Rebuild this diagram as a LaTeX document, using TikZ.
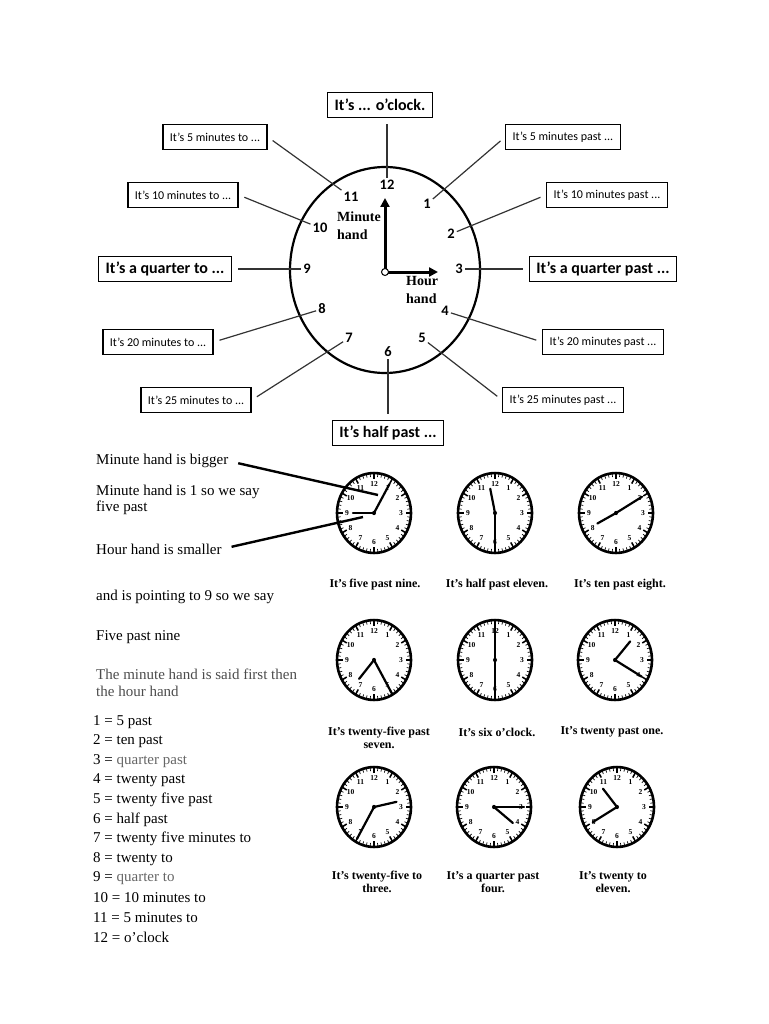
\documentclass[tikz,border=0pt]{standalone}
\usepackage{fontspec}
\setmainfont{Liberation Serif}
\newfontfamily\labelfont[Ligatures=TeX]{Carlito}
\usetikzlibrary{positioning,arrows.meta,shapes.geometric}

\tikzset{
  rim/.style={line width=2.6pt},
  tick/.style={line width=0.7pt},
  bigtick/.style={line width=1.5pt},
  dialnum/.style={font=\bfseries\fontsize{7.5}{7.5}\selectfont, inner sep=0pt},
  clockhand/.style={line width=2.2pt, line cap=round}
}

% #1 name, #2 centre, #3 hour, #4 hour hand length, #5 minute, #6 minute hand length
\newcommand{\smallclock}[6]{%
  \begin{scope}[shift={#2}, yscale=1.08]
    \coordinate (#1) at (0,0);
    \draw[rim] (0,0) circle (37);
    \foreach \k in {0,...,59} \draw[tick] ({\k*6}:37) -- ({\k*6}:33.5);
    \foreach \k in {1,...,12} {
      \draw[bigtick] ({\k*30-90}:37) -- ({\k*30-90}:31.5);
      \node[dialnum] at ({\k*30-90}:27) {\k};
    }
    \draw[clockhand] (#1) -- ({30*#3-90}:#4);
    \draw[clockhand] (#1) -- ({6*#5-90}:#6);
    \fill (#1) circle (2);
  \end{scope}}

\begin{document}
\begin{tikzpicture}[x=1pt, y=-1pt,
  box/.style={draw, line width=1.3pt, minimum height=25pt, inner xsep=7pt, font=\labelfont\fontsize{12}{14}\selectfont},
  bigbox/.style={box, font=\labelfont\bfseries\fontsize{16}{18}\selectfont},
  num/.style={font=\labelfont\bfseries\fontsize{14.5}{16}\selectfont, inner sep=2pt},
  spoke/.style={line width=1.2pt, draw=black!80, shorten <=6pt},
  hand/.style={line width=3pt, -{Triangle[length=9pt,width=9pt]}},
  handtag/.style={font=\bfseries\fontsize{14}{18}\selectfont, align=left, inner sep=0pt},
  note/.style={anchor=west, align=left, inner sep=0pt, font=\fontsize{15}{16.5}\selectfont},
  caption/.style={align=center, inner sep=0pt, font=\bfseries\fontsize{12}{13}\selectfont},
  pointer/.style={line width=2.4pt, shorten <=10pt}
]
\useasboundingbox (0,0) rectangle (768,1024);

% big clock
\node[draw, ellipse, line width=2.2pt, minimum width=190pt, minimum height=206pt] (face) at (385,270) {};
\node[num] (n12) at (387,185) {12};
\node[num] (n1) at (427,204) {1};
\node[num] (n2) at (451,234) {2};
\node[num] (n3) at (459,269) {3};
\node[num] (n4) at (445,311) {4};
\node[num] (n5) at (422,338) {5};
\node[num] (n6) at (388,352) {6};
\node[num] (n7) at (349,338) {7};
\node[num] (n8) at (322,309) {8};
\node[num] (n9) at (307,269) {9};
\node[num] (n10) at (320,228) {10};
\node[num] (n11) at (351,197) {11};

\coordinate (hub) at (385,272);
\coordinate (mtip) at (385,198);
\coordinate (htip) at (438,272);
\draw[hand] (hub) -- (mtip);
\draw[hand] (hub) -- (htip);
\node[draw, circle, fill=white, line width=1pt, minimum size=7pt, inner sep=0pt] (pivot) at (hub) {};
\node[handtag, anchor=north west] (mtag) at (337,212) {Minute\\hand};
\node[handtag, anchor=north west] (htag) at (406,276) {Hour\\hand};

% labels round the clock
\node[bigbox] (oclock) at (380,105) {It's ... o'clock.};
\node[box] (to5) at (215,137) {It's 5 minutes to ...};
\node[box] (past5) at (563,137) {It's 5 minutes past ...};
\node[box] (to10) at (183,195) {It's 10 minutes to ...};
\node[box] (past10) at (607,195) {It's 10 minutes past ...};
\node[bigbox] (qto) at (165,269) {It's a quarter to ...};
\node[bigbox] (qpast) at (603,269) {It's a quarter past ...};
\node[box] (to20) at (158,342) {It's 20 minutes to ...};
\node[box] (past20) at (603,342) {It's 20 minutes past ...};
\node[box] (to25) at (196,400) {It's 25 minutes to ...};
\node[box] (past25) at (563,400) {It's 25 minutes past ...};
\node[bigbox] (half) at (388,433) {It's half past ...};

\draw[spoke] (oclock.south -| n12) -- (n12);
\draw[spoke] (to5.east) -- (n11);
\draw[spoke] (past5.west) -- (n1);
\draw[spoke] (to10.east) -- (n10);
\draw[spoke] (past10.west) -- (n2);
\draw[spoke] (qto) -- (n9);
\draw[spoke] (qpast) -- (n3);
\draw[spoke] (to20.east) -- (n8);
\draw[spoke] (past20.west) -- (n4);
\draw[spoke] (to25.east) -- (n7);
\draw[spoke] (past25.west) -- (n5);
\draw[spoke] (half.north -| n6) -- (n6);

% notes on the left
\node[note] (bigger) at (96,461) {Minute hand is bigger};
\node[note] (isone) at (96,500) {Minute hand is 1 so we say\\five past};
\node[note] (smaller) at (96,549) {Hour hand is smaller};
\node[note] (pointing) at (96,597) {and is pointing to 9 so we say};
\node[note] (fivenine) at (96,637) {Five past nine};
\node[note, text=black!70] (order) at (96,683) {The minute hand is said first then\\the hour hand};

\foreach \i/\t in {1/{1 = 5 past}, 2/{2 = ten past}, 3/{3 = \textcolor{black!60}{quarter past}},
  4/{4 = twenty past}, 5/{5 = twenty five past}, 6/{6 = half past},
  7/{7 = twenty five minutes to}, 8/{8 = twenty to}, 9/{9 = \textcolor{black!60}{quarter to}},
  10/{10 = 10 minutes to}, 11/{11 = 5 minutes to}, 12/{12 = o'clock}}
  \node[note] (l\i) at (93,{722+19.55*(\i-1)}) {\t};

% small clocks
\smallclock{c1}{(374,513)}{9}{21}{5}{31}
\smallclock{c2}{(495,513)}{11.6}{23}{30}{36}
\smallclock{c3}{(616,513)}{8.08}{21}{10}{30}
\smallclock{c4}{(374,660)}{7.35}{23}{25}{36}
\smallclock{c5}{(495,660)}{6}{36}{0}{36}
\smallclock{c6}{(615,660)}{1.38}{23}{20}{31}
\smallclock{c7}{(374,807)}{2.6}{23}{35}{34}
\smallclock{c8}{(494,807)}{4.27}{24}{15}{30}
\smallclock{c9}{(617,807)}{10.68}{22}{40}{28}

\coordinate (mhpoint) at (378,495);
\coordinate (hhpoint) at (363,517);
\draw[pointer] (bigger.east) -- (mhpoint);
\draw[pointer] (smaller.east) -- (hhpoint);

\node[caption] (cap1) at (375,585) {It's five past nine.};
\node[caption] (cap2) at (497,585) {It's half past eleven.};
\node[caption] (cap3) at (620,585) {It's ten past eight.};
\node[caption] (cap4) at (379,738) {It's twenty-five past\\seven.};
\node[caption] (cap5) at (497,732) {It's six o'clock.};
\node[caption] (cap6) at (612,732) {It's twenty past one.};
\node[caption] (cap7) at (377,882) {It's twenty-five to\\three.};
\node[caption] (cap8) at (493,882) {It's a quarter past\\four.};
\node[caption] (cap9) at (613,882) {It's twenty to\\eleven.};
\end{tikzpicture}
\end{document}
